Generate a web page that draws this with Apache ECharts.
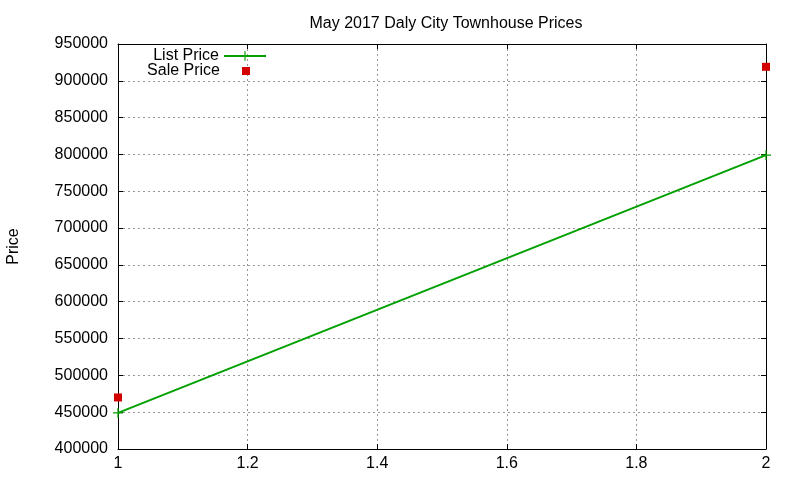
<!DOCTYPE html>
<html>
<head>
<meta charset="utf-8">
<script src="https://cdn.jsdelivr.net/npm/echarts@6/dist/echarts.min.js"></script>
<style>html,body{margin:0;padding:0;background:#fff}#c{width:800px;height:480px}</style>
</head>
<body>
<div id="c"></div>
<script>
var titleText = "May 2017 Daly City Townhouse Prices";
var xValues = [1, 2];
var listPrice = [449000, 799000];
var salePrice = [470000, 919000];
var seriesNames = ["List Price", "Sale Price"];

var font = "Liberation Sans, Arial, sans-serif";
var chart = echarts.init(document.getElementById('c'), null, {renderer: 'canvas'});
var crossPath = 'path://M4.4,0h1.2v4.4h4.4v1.2h-4.4v4.4h-1.2v-4.4h-4.4v-1.2h4.4z';
var squareIcon = 'path://M0,0L0.01,0Z M17,2h8v8h-8z M42,12L41.99,12Z';
var mirror = {
  axisLabel: {show: false}, splitLine: {show: false},
  axisLine: {show: true, lineStyle: {color: '#000', width: 1}},
  axisTick: {show: true, inside: true, length: 5, lineStyle: {color: '#000'}}
};
chart.setOption({
  animation: false,
  backgroundColor: '#fff',
  title: {text: titleText, left: 441, top: 11, textAlign: 'center',
    textStyle: {fontFamily: font, fontSize: 16, fontWeight: 'normal', color: '#000'}},
  grid: {left: 118, right: 34, top: 44, bottom: 31, containLabel: false, outerBoundsMode: 'none'},
  legend: [
    {data: [seriesNames[0]], orient: 'vertical', right: 533, top: 48, padding: 0, align: 'right',
      itemWidth: 42, itemHeight: 12,
      textStyle: {fontFamily: font, fontSize: 16, color: '#000'}},
    {data: [{name: seriesNames[1], icon: squareIcon}], orient: 'vertical', right: 533, top: 63, padding: 0, align: 'right',
      itemWidth: 42, itemHeight: 12,
      textStyle: {fontFamily: font, fontSize: 16, color: '#000'}}
  ],
  xAxis: [
    {type: 'value', min: 1, max: 2, interval: 0.2, position: 'bottom',
      axisLine: {show: true, lineStyle: {color: '#000'}},
      axisTick: {show: true, inside: true, length: 5, lineStyle: {color: '#000'}},
      axisLabel: {fontFamily: font, fontSize: 16, color: '#000', margin: 7,
        formatter: function (v) { return Math.round(v * 10) / 10 + ''; }},
      splitLine: {show: true, lineStyle: {color: '#999', type: [2, 3], width: 1}}},
    Object.assign({type: 'value', min: 1, max: 2, interval: 0.2, position: 'top'}, mirror)
  ],
  yAxis: [
    {type: 'value', min: 400000, max: 950000, interval: 50000, position: 'left',
      name: 'Price', nameLocation: 'middle', nameGap: 96, nameRotate: 90,
      nameTextStyle: {fontFamily: font, fontSize: 16, color: '#000'},
      axisLine: {show: true, lineStyle: {color: '#000'}},
      axisTick: {show: true, inside: true, length: 5, lineStyle: {color: '#000'}},
      axisLabel: {fontFamily: font, fontSize: 16, color: '#000', margin: 10,
        formatter: function (v) { return String(v); }},
      splitLine: {show: true, lineStyle: {color: '#999', type: [2, 3], width: 1}}},
    Object.assign({type: 'value', min: 400000, max: 950000, interval: 50000, position: 'right'}, mirror)
  ],
  series: [
    {name: seriesNames[0], type: 'line', data: xValues.map(function (x, i) { return [x, listPrice[i]]; }),
      symbol: crossPath, symbolSize: 10, showAllSymbol: true,
      lineStyle: {color: '#00a000', width: 2}, itemStyle: {color: '#00a000', opacity: 1}, clip: false},
    {name: seriesNames[1], type: 'scatter', data: xValues.map(function (x, i) { return [x, salePrice[i]]; }),
      symbol: 'rect', symbolSize: 8, itemStyle: {color: '#d40000', opacity: 1}, clip: false}
  ]
});
</script>
</body>
</html>
